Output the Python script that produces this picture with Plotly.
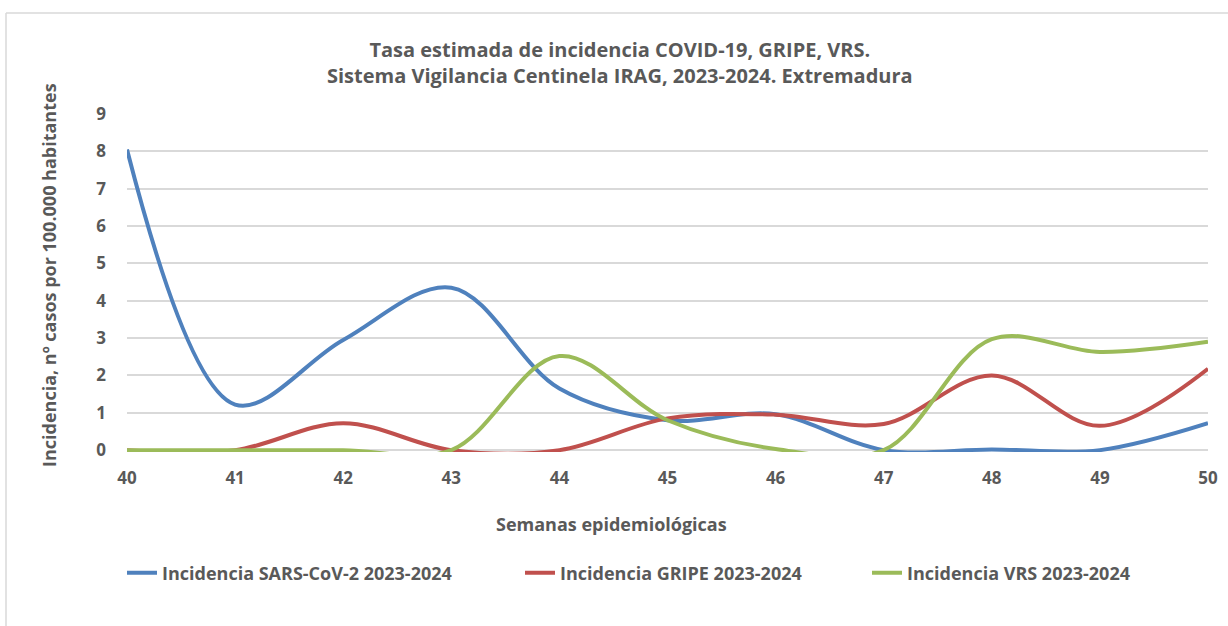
import plotly.graph_objects as go

semanas = [40, 41, 42, 43, 44, 45, 46, 47, 48, 49, 50]
sars = [8.05, 1.22, 2.95, 4.35, 1.65, 0.8, 0.96, 0.0, 0.02, 0.0, 0.72]
gripe = [0.0, 0.0, 0.72, 0.0, 0.0, 0.85, 0.95, 0.7, 2.0, 0.65, 2.18]
vrs = [0.0, 0.0, 0.0, 0.0, 2.52, 0.8, 0.03, 0.0, 2.97, 2.63, 2.9]

names = ["Incidencia SARS-CoV-2 2023-2024", "Incidencia GRIPE 2023-2024", "Incidencia VRS 2023-2024"]
colors = ["#4F81BD", "#C0504D", "#9BBB59"]
legend_ids = ["legend", "legend2", "legend3"]
font = "Open Sans"
txt = "#595959"

fig = go.Figure()
for ys, n, c, lg in zip([sars, gripe, vrs], names, colors, legend_ids):
    fig.add_trace(go.Scatter(x=semanas, y=ys, name=n, mode="lines", legend=lg,
                             line=dict(color=c, width=4, shape="spline", smoothing=1.0)))

L, R, T, B = 127, 20, 114, 174
W, H = 1228, 626
pw, ph = W - L - R, H - T - B

def px(x):
    return (x - L) / pw

def py(y):
    return (H - B - y) / ph

def leg(xpix):
    return dict(orientation="h", x=px(xpix), xanchor="left", y=py(573), yanchor="middle",
                font=dict(size=18, color=txt, family=font, weight="bold"),
                bgcolor="rgba(0,0,0,0)")

fig.update_layout(
    width=W, height=H,
    margin=dict(l=L, r=R, t=T, b=B, autoexpand=False),
    paper_bgcolor="white", plot_bgcolor="white",
    font=dict(family=font, color=txt),
    showlegend=True,
    legend=leg(122), legend2=leg(520), legend3=leg(867),
    xaxis=dict(range=[40, 50], tickvals=semanas, ticktext=[str(s) for s in semanas],
               showgrid=False, zeroline=False, showline=False, automargin=False,
               tickfont=dict(size=17, color=txt, family=font, weight="bold"),
               ticks="", ticklabelstandoff=14),
    yaxis=dict(range=[-0.05, 9], tickvals=list(range(10)), showgrid=True, automargin=False,
               gridcolor="#d9d9d9", gridwidth=1.5, zeroline=False, showline=False,
               tickfont=dict(size=17, color=txt, family=font, weight="bold"),
               ticks="", ticklabelstandoff=20),
)

fig.add_annotation(xref="paper", yref="paper", x=px(620), y=py(62), showarrow=False,
                   text="<b>Tasa estimada de incidencia COVID-19, GRIPE, VRS.<br>Sistema Vigilancia Centinela IRAG, 2023-2024. Extremadura</b>",
                   font=dict(size=20, color=txt, family=font), align="center", yanchor="middle")
fig.add_annotation(xref="paper", yref="paper", x=px(611), y=py(524), showarrow=False,
                   text="<b>Semanas epidemiológicas</b>",
                   font=dict(size=18, color=txt, family=font), yanchor="middle")
fig.add_annotation(xref="paper", yref="paper", x=px(49), y=py(275), showarrow=False,
                   text="<b>Incidencia, nº casos por 100.000 habitantes</b>", textangle=-90,
                   font=dict(size=18, color=txt, family=font), xanchor="center", yanchor="middle")

fig.add_shape(type="line", xref="paper", yref="paper", x0=px(6), x1=px(1228), y0=py(13), y1=py(13),
              line=dict(color="#d9d9d9", width=1.5))
fig.add_shape(type="line", xref="paper", yref="paper", x0=px(6), x1=px(6), y0=py(13), y1=py(626),
              line=dict(color="#d9d9d9", width=1.5))

fig.write_html("out.html", config={"displayModeBar": False},
               post_script="document.body.style.margin='0px';")
